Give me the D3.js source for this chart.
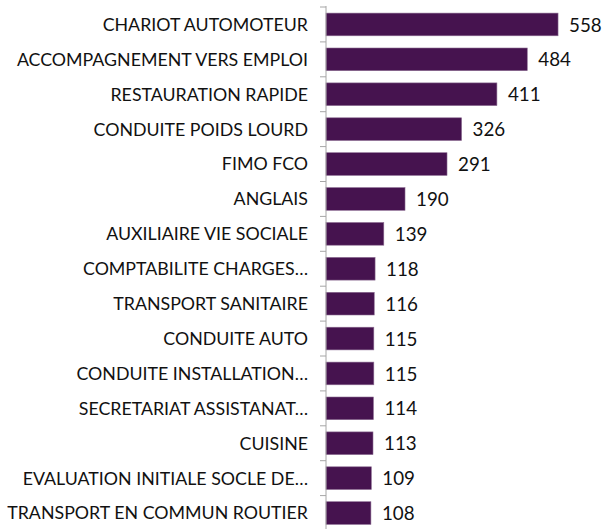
<!DOCTYPE html>
<html>
<head>
<meta charset="utf-8">
<script src="https://cdn.jsdelivr.net/npm/d3@7"></script>
<style>
  body { margin: 0; background: #fff; }
  svg text { font-family: "Lato", "Open Sans", sans-serif; fill: #111; }
</style>
</head>
<body>
<svg id="chart"></svg>
<script>
const width = 609, height = 529;

// categories and values, top to bottom
const categories = [
  "CHARIOT AUTOMOTEUR",
  "ACCOMPAGNEMENT VERS EMPLOI",
  "RESTAURATION RAPIDE",
  "CONDUITE POIDS LOURD",
  "FIMO FCO",
  "ANGLAIS",
  "AUXILIAIRE VIE SOCIALE",
  "COMPTABILITE CHARGES…",
  "TRANSPORT SANITAIRE",
  "CONDUITE AUTO",
  "CONDUITE INSTALLATION…",
  "SECRETARIAT ASSISTANAT…",
  "CUISINE",
  "EVALUATION INITIALE SOCLE DE…",
  "TRANSPORT EN COMMUN ROUTIER"
];
const values = [558, 484, 411, 326, 291, 190, 139, 118, 116, 115, 115, 114, 113, 109, 108];

const svg = d3.select("#chart")
  .attr("width", width)
  .attr("height", height);

const x = d3.scaleLinear()
  .domain([0, 600])
  .range([326, 575.5]);

const y = d3.scaleBand()
  .domain(categories)
  .range([7, 530.5])
  .paddingInner(0.35)
  .paddingOuter(0.175);

// bars
svg.selectAll("rect.bar")
  .data(values)
  .join("rect")
  .attr("class", "bar")
  .attr("x", x(0))
  .attr("y", (d, i) => y(categories[i]))
  .attr("width", d => x(d) - x(0))
  .attr("height", y.bandwidth())
  .attr("fill", "#46134f")
  .attr("stroke", "#8a6a90")
  .attr("stroke-width", 0.6);

// vertical axis with ticks between categories
const axis = svg.append("g");
axis.append("line")
  .attr("x1", x(0)).attr("x2", x(0))
  .attr("y1", y.range()[0] - 1).attr("y2", height)
  .attr("stroke", "#a6a6a6");

const tickYs = categories.map(c => y(c) - y.step() * y.paddingInner() / 2);
axis.selectAll("line.tick")
  .data(tickYs)
  .join("line")
  .attr("class", "tick")
  .attr("x1", x(0) - 6).attr("x2", x(0))
  .attr("y1", d => d).attr("y2", d => d)
  .attr("stroke", "#a6a6a6");

// category labels
svg.selectAll("text.cat")
  .data(categories)
  .join("text")
  .attr("class", "cat")
  .attr("x", x(0) - 18)
  .attr("y", d => y(d) + y.bandwidth() / 2)
  .attr("dy", "0.36em")
  .attr("text-anchor", "end")
  .attr("font-size", 17.8)
  .text(d => d);

// value labels
svg.selectAll("text.val")
  .data(values)
  .join("text")
  .attr("class", "val")
  .attr("x", d => x(d) + 11)
  .attr("y", (d, i) => y(categories[i]) + y.bandwidth() / 2)
  .attr("dy", "0.38em")
  .attr("font-size", 18.8)
  .text(d => d);
</script>
</body>
</html>
